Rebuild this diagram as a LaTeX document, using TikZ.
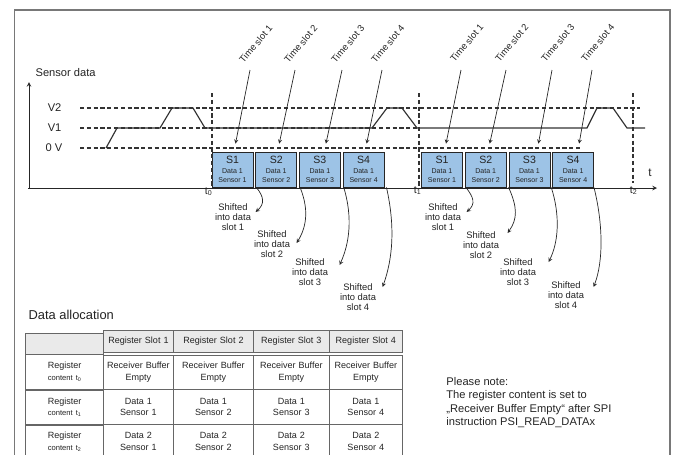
\documentclass[tikz,border=0pt]{standalone}
\usepackage{fontspec}
\setmainfont{Liberation Sans}
\usetikzlibrary{
  matrix,
  calc,
  positioning,
  arrows}
\definecolor{slotblue}{RGB}{157,195,230}
\definecolor{headgray}{RGB}{234,234,234}
\definecolor{txtgray}{RGB}{35,35,35}
\definecolor{framegray}{RGB}{120,120,120}

\begin{document}
\begin{tikzpicture}[
  x=0.3mm, y=-0.3mm,
  >=stealth,
  line width=0.75pt,
  every node/.style={text=txtgray,inner sep=1pt},
  refline/.style={line width=1pt,black!80,dash pattern=on 3.6pt off 2.2pt},
  sig/.style={line width=1pt,black!80},
  sbox/.style={draw=black!85,line width=0.6pt,fill=slotblue,minimum width=12.3mm,minimum height=10.5mm,
    inner sep=0pt,align=center,font=\fontsize{6}{7.4}\selectfont},
  slotlbl/.style={rotate=50,anchor=south west,font=\fontsize{8}{10}\selectfont},
  shlbl/.style={align=center,font=\fontsize{8}{8.6}\selectfont},
  ptr/.style={->,line width=0.6pt,black!85},
  ampersand replacement=\&
]%
  \useasboundingbox (0,0) rectangle (683,454);
  \draw[framegray,line width=1.2pt] (14.5,470) -- (14.5,10) -- (670,10) -- (670,470);

  % axes
  \coordinate (O) at (29,188);
  \draw[->,line width=0.8pt,black!85] (28,188) -- (657,188);
  \draw[->,line width=0.8pt,black!85] (O) -- (29,82);
  \node[anchor=west,font=\fontsize{9.5}{11}\selectfont] (ylbl) at (34,73) {Sensor data};
  \node[font=\fontsize{10}{11}\selectfont] (xlbl) at (650,173) {t};

  % levels
  \node[anchor=east,font=\fontsize{9.5}{11}\selectfont] (lv2) at (63,108) {V2};
  \node[anchor=east,font=\fontsize{9.5}{11}\selectfont] (lv1) at (63,128) {V1};
  \node[anchor=east,font=\fontsize{9.5}{11}\selectfont] (lv0) at (64,148) {0 V};
  \draw[refline] (80,108) -- (640,108);
  \draw[refline] (80,128) -- (418,128);
  \draw[refline] (80,148) -- (582,148);
  \draw[sig] (106,148) -- (117,128) -- (160,128) -- (172,108) -- (193,108) -- (205,128)
    -- (372,128) -- (387,108) -- (402,108) -- (417,128) -- (587,128) -- (597,108)
    -- (613,108) -- (627,128) -- (645,128);

  % slots t0 -> t1
  \node[sbox] (a1) at (232.5,169.5) {{\fontsize{9}{9}\selectfont S1}\\[1pt]Data 1\\Sensor 1};
  \node[sbox,right=0.6mm of a1] (a2) {{\fontsize{9}{9}\selectfont S2}\\[1pt]Data 1\\Sensor 2};
  \node[sbox,right=0.6mm of a2] (a3) {{\fontsize{9}{9}\selectfont S3}\\[1pt]Data 1\\Sensor 3};
  \node[sbox,right=0.6mm of a3] (a4) {{\fontsize{9}{9}\selectfont S4}\\[1pt]Data 1\\Sensor 4};

  % slots t1 -> t2
  \node[sbox] (b1) at (442,169.5) {{\fontsize{9}{9}\selectfont S1}\\[1pt]Data 1\\Sensor 1};
  \node[sbox,right=0.6mm of b1] (b2) {{\fontsize{9}{9}\selectfont S2}\\[1pt]Data 1\\Sensor 2};
  \node[sbox,right=0.6mm of b2] (b3) {{\fontsize{9}{9}\selectfont S3}\\[1pt]Data 1\\Sensor 3};
  \node[sbox,right=0.6mm of b3] (b4) {{\fontsize{9}{9}\selectfont S4}\\[1pt]Data 1\\Sensor 4};

  % time marks
  \draw[refline] (212,93) -- (212,188);
  \draw[refline] (419,93) -- (419,186);
  \draw[refline] (633,93) -- (633,183);
  \node[anchor=north east,font=\fontsize{9}{10}\selectfont] (lt0) at (214,186) {t\textsubscript{0}};
  \node[anchor=north east,font=\fontsize{9}{10}\selectfont] (lt1) at (423,185) {t\textsubscript{1}};
  \node[anchor=north east,font=\fontsize{9}{10}\selectfont] (lt2) at (639,185) {t\textsubscript{2}};

  % time slot pointers
  \node[slotlbl] (ts1) at (244,66) {Time slot 1};
  \node[slotlbl] (ts2) at (289,66) {Time slot 2};
  \node[slotlbl] (ts3) at (336,66) {Time slot 3};
  \node[slotlbl] (ts4) at (376,66) {Time slot 4};
  \node[slotlbl] (ts5) at (455,65) {Time slot 1};
  \node[slotlbl] (ts6) at (500,65) {Time slot 2};
  \node[slotlbl] (ts7) at (546,65) {Time slot 3};
  \node[slotlbl] (ts8) at (586,65) {Time slot 4};
  \draw[ptr] ($(ts1.south west)+(6,4)$) -- ($(a1.north)+(3,-8)$);
  \draw[ptr] ($(ts2.south west)+(6,4)$) -- ($(a2.north)+(3,-8)$);
  \draw[ptr] ($(ts3.south west)+(6,4)$) -- ($(a3.north)+(6,-8)$);
  \draw[ptr] ($(ts4.south west)+(6,4)$) -- ($(a4.north)+(3,-8)$);
  \draw[ptr] ($(ts5.south west)+(6,5)$) -- ($(b1.north)+(4,-8)$);
  \draw[ptr] ($(ts6.south west)+(6,5)$) -- ($(b2.north)+(4,-8)$);
  \draw[ptr] ($(ts7.south west)+(6,5)$) -- ($(b3.north)+(9,-8)$);
  \draw[ptr] ($(ts8.south west)+(6,5)$) -- ($(b4.north)+(6,-8)$);

  % shifted into register
  \node[shlbl] (sh1) at (233,217) {Shifted\\into data\\slot 1};
  \node[shlbl] (sh2) at (272,244) {Shifted\\into data\\slot 2};
  \node[shlbl] (sh3) at (310,272) {Shifted\\into data\\slot 3};
  \node[shlbl] (sh4) at (358,297) {Shifted\\into data\\slot 4};
  \node[shlbl] (sh5) at (443,217) {Shifted\\into data\\slot 1};
  \node[shlbl] (sh6) at (481,245) {Shifted\\into data\\slot 2};
  \node[shlbl] (sh7) at (518,272) {Shifted\\into data\\slot 3};
  \node[shlbl] (sh8) at (566,295) {Shifted\\into data\\slot 4};
  \draw[ptr] ($(a1.south east)+(3,0)$) .. controls +(8,10) and +(9,-8) .. ($(sh1.east)+(3,-5)$);
  \draw[ptr] ($(a2.south east)+(3,0)$) .. controls +(9,22) and +(10,-16) .. ($(sh2.east)+(5,-1)$);
  \draw[ptr] ($(a3.south east)+(3,0)$) .. controls +(9,30) and +(10,-22) .. ($(sh3.east)+(10,-7)$);
  \draw[ptr] ($(a4.south east)+(2,0)$) .. controls +(9,40) and +(10,-28) .. ($(sh4.east)+(5,-10)$);
  \draw[ptr] ($(b1.south east)+(3,0)$) .. controls +(8,10) and +(9,-8) .. ($(sh5.east)+(4,-5)$);
  \draw[ptr] ($(b2.south east)+(2,0)$) .. controls +(9,20) and +(10,-14) .. ($(sh6.east)+(7,-12)$);
  \draw[ptr] ($(b3.south east)+(1,0)$) .. controls +(9,28) and +(10,-20) .. ($(sh7.east)+(11,-10)$);
  \draw[ptr] ($(b4.south east)+(0,0)$) .. controls +(9,36) and +(10,-26) .. ($(sh8.east)+(8,-8)$);

  % data allocation table
  \node[anchor=west,font=\fontsize{11}{13}\selectfont] (dalloc) at (27,315) {Data allocation};
  \matrix (tab) [matrix of nodes,anchor=north west,inner sep=0pt,nodes in empty cells,
    column sep=-0.6pt,row sep=-0.6pt,
    nodes={draw=black!60,line width=0.6pt,align=center,text width=19mm,minimum height=10.35mm,inner sep=1pt,
      font=\fontsize{7.7}{10}\selectfont},
    row 1/.style={nodes={fill=headgray,minimum height=6.5mm}},
    column 1/.style={nodes={minimum width=23.3mm}},
    column 2/.style={nodes={minimum width=21mm}},
    column 3/.style={nodes={minimum width=24mm}},
    column 4/.style={nodes={minimum width=22.7mm}},
    column 5/.style={nodes={minimum width=22mm}}] at (25,330)
  {
    \& Register Slot 1 \& Register Slot 2 \& Register Slot 3 \& Register Slot 4 \\
    Register\par{\fontsize{6.5}{10}\selectfont content t\textsubscript{0}} \& Receiver Buffer\par Empty \& Receiver Buffer\par Empty \& Receiver Buffer\par Empty \& Receiver Buffer\par Empty \\
    Register\par{\fontsize{6.5}{10}\selectfont content t\textsubscript{1}} \& Data 1\par Sensor 1 \& Data 1\par Sensor 2 \& Data 1\par Sensor 3 \& Data 1\par Sensor 4 \\
    Register\par{\fontsize{6.5}{10}\selectfont content t\textsubscript{2}} \& Data 2\par Sensor 1 \& Data 2\par Sensor 2 \& Data 2\par Sensor 3 \& Data 2\par Sensor 4 \\
  };

  \node[anchor=north west,align=left,inner sep=0pt,font=\fontsize{9.5}{11.4}\selectfont] (note) at (446,377)
    {Please note:\\The register content is set to\\„Receiver Buffer Empty“ after SPI\\instruction PSI\_READ\_DATAx};
\end{tikzpicture}
\end{document}
